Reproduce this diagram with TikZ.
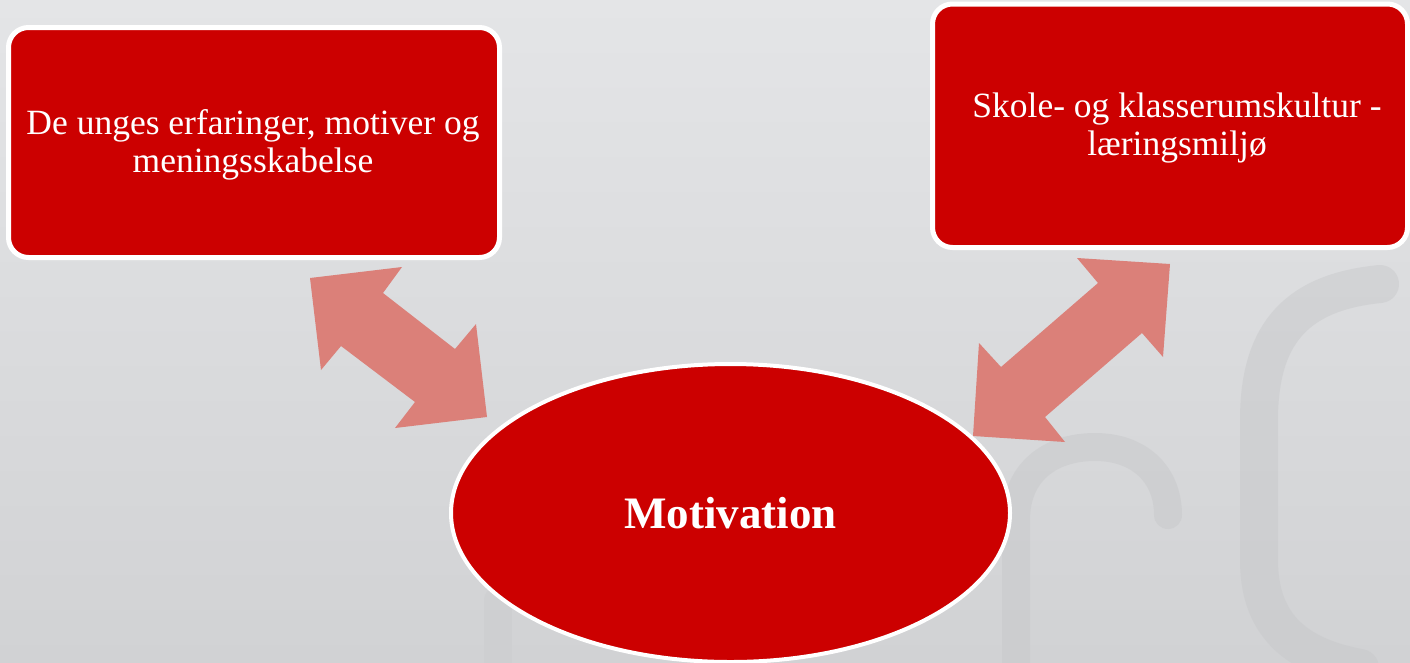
\documentclass[tikz,border=0pt]{standalone}
\usepackage{fontspec}
\setmainfont{Liberation Serif}
\usetikzlibrary{shapes.geometric}
\definecolor{redfill}{HTML}{CC0000}
\definecolor{arrowpink}{HTML}{DB8079}
\definecolor{bgtop}{HTML}{E4E5E7}
\definecolor{bgbottom}{HTML}{D1D2D4}
\definecolor{mark}{HTML}{C6C7C9}
\tikzset{
  redbox/.style={draw=white, line width=5pt, fill=redfill, rounded corners=20pt},
  boxtext/.style={text=white, align=center, font=\fontsize{35.5}{38}\selectfont, inner sep=0pt},
  dblarrow/.style={fill=arrowpink, draw=none},
  watermark/.style={draw=mark, draw opacity=0.45, line cap=round},
}
\begin{document}
\begin{tikzpicture}[x=1pt,y=-1pt]
\useasboundingbox (0,0) rectangle (1410,662);
\shade[top color=bgtop, bottom color=bgbottom] (0,0) rectangle (1410,662);
% faint watermark letters
\draw[watermark, line width=38pt] (1380,284) .. controls (1300,292) and (1259,330) .. (1259,420) -- (1259,560) .. controls (1259,620) and (1290,655) .. (1360,668);
\draw[watermark, line width=28pt] (1016,670) -- (1016,520) .. controls (1016,472) and (1050,447) .. (1095,447) .. controls (1140,447) and (1168,475) .. (1168,515);
\draw[watermark, draw opacity=0.25, line width=28pt] (498,600) -- (498,670);
% boxes
\draw[redbox] (8.5,27.5) rectangle (499.5,257.5);
\node[boxtext] (lefttext) at (253,145) {De unges erfaringer, motiver og\\meningsskabelse};
\draw[redbox] (932.5,4) rectangle (1407.5,247.5);
\node[boxtext] (righttext) at (1177,128) {Skole- og klasserumskultur -\\læringsmiljø};
% ellipse
\node[ellipse, draw=white, line width=4pt, fill=redfill, minimum width=559pt, minimum height=298pt, inner sep=0pt,
      text=white, font=\fontsize{45}{50}\selectfont\bfseries] (motivation) at (730.5,513) {Motivation};
% double arrows
\fill[dblarrow] (310,278) -- (402,267) -- (383,293) -- (455,349) -- (476,324) -- (487,417) -- (395,428) -- (415,402) -- (341,346) -- (321,370) -- cycle;
\fill[dblarrow] (1170,264) -- (1077,258) -- (1098,283) -- (1001,367) -- (979,343) -- (973,436) -- (1065,442) -- (1045,417) -- (1142,333) -- (1163,357) -- cycle;
\end{tikzpicture}
\end{document}
